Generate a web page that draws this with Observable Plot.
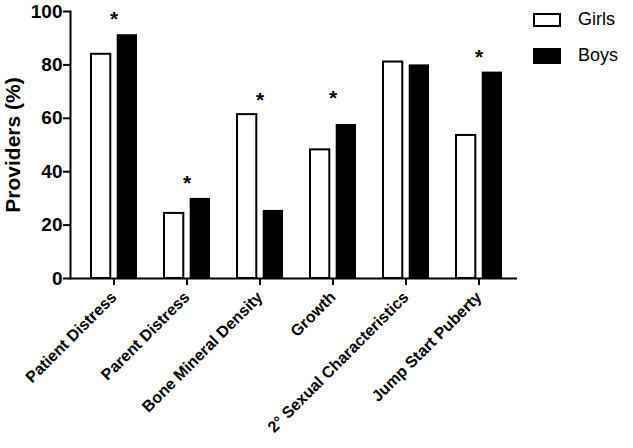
<!DOCTYPE html>
<html>
<head>
<meta charset="utf-8">
<script src="https://cdn.jsdelivr.net/npm/d3@7"></script>
<script src="https://cdn.jsdelivr.net/npm/@observablehq/plot@0.6"></script>
<style>
  html, body { margin: 0; padding: 0; background: white; }
  #wrap { position: relative; width: 633px; height: 448px; font-family: "Liberation Sans", Arial, Helvetica, sans-serif; }
  .leg { position: absolute; left: 533px; display: flex; align-items: center; font-size: 18px; color: black; }
  .sw { width: 24px; height: 10px; border: 2px solid black; margin-right: 17px; }
</style>
</head>
<body>
<div id="wrap"></div>
<script>
const categories = ["Patient Distress", "Parent Distress", "Bone Mineral Density", "Growth", "2\u00B0 Sexual Characteristics", "Jump Start Puberty"];
const girls = [83.6, 24.0, 61.0, 47.8, 80.7, 53.2];
const boys = [91.3, 30.0, 25.5, 57.7, 80.0, 77.3];
const starY = [99.1, 37.5, 68.5, 69.3, null, 84.6];
const yTicks = [0, 20, 40, 60, 80, 100];
const seriesNames = ["Girls", "Boys"];

const girlsData = categories.map((c, i) => ({category: c, value: girls[i]}));
const boysData = categories.map((c, i) => ({category: c, value: boys[i]}));
const starData = categories.map((c, i) => ({category: c, y: starY[i]})).filter(d => d.y != null);

const font = "'Liberation Sans', Arial, Helvetica, sans-serif";

const chart = Plot.plot({
  width: 633,
  height: 448,
  marginLeft: 70,
  marginRight: 116,
  marginTop: 11,
  marginBottom: 170,
  style: {fontFamily: font, color: "black", background: "white"},
  x: {domain: categories, paddingInner: 0.356, paddingOuter: 0.2145, align: 0.58},
  y: {domain: [0, 100]},
  marks: [
    Plot.barY(girlsData, {x: "category", y: "value", fill: "white", stroke: "black", strokeWidth: 2, insetLeft: 1, insetRight: 26.7, insetTop: -1}),
    Plot.barY(boysData, {x: "category", y: "value", fill: "black", insetLeft: 26.7, insetRight: 0}),
    Plot.text(starData, {x: "category", y: "y", text: () => "*", fontSize: 21, fontWeight: "bold", dy: 5}),
    Plot.ruleY([0], {stroke: "black", strokeWidth: 2}),
    Plot.frame({anchor: "left", stroke: "black", strokeWidth: 2}),
    Plot.axisY({ticks: yTicks, tickSize: 7, tickPadding: 1, strokeWidth: 2, fontSize: 19, fontWeight: "bold", label: null}),
    Plot.axisX({tickRotate: -45, tickSize: 7, tickPadding: 9, strokeWidth: 2, fontSize: 16, fontWeight: "bold", label: null}),
    Plot.text(["Providers (%)"], {frameAnchor: "left", textAnchor: "middle", rotate: -90, dx: -57, fontSize: 21, fontWeight: "bold"})
  ]
});

const wrap = document.getElementById("wrap");
wrap.appendChild(chart);

const legTops = [9, 45];
seriesNames.forEach((name, i) => {
  const row = document.createElement("div");
  row.className = "leg";
  row.style.top = legTops[i] + "px";
  const sw = document.createElement("span");
  sw.className = "sw";
  sw.style.background = i === 0 ? "white" : "black";
  if (i === 1) sw.style.height = "12px";
  const t = document.createElement("span");
  t.textContent = name;
  row.appendChild(sw);
  row.appendChild(t);
  wrap.appendChild(row);
});
</script>
</body>
</html>
